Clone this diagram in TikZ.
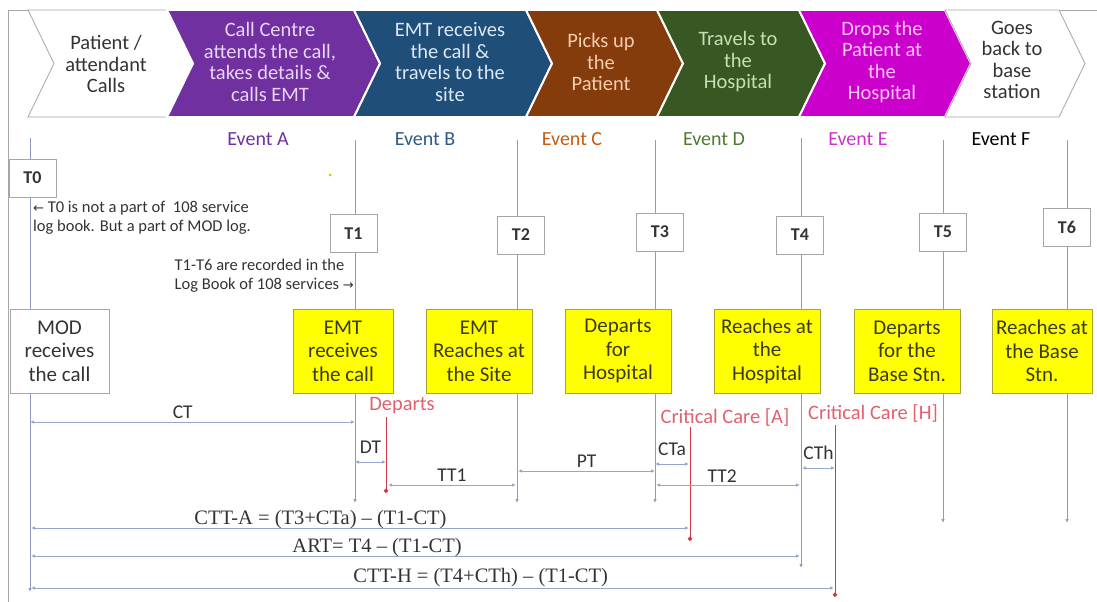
\documentclass[tikz,border=0pt]{standalone}
\usepackage{fontspec}
\setmainfont{Carlito}
\newfontfamily\timesfont{Liberation Serif}
\newfontfamily\arrowfont{DejaVu Sans}
\usetikzlibrary{arrows.meta,positioning}

\definecolor{cpurple}{HTML}{7030A0}
\definecolor{cblue}{HTML}{1F4E79}
\definecolor{cbrown}{HTML}{843C0C}
\definecolor{cgreen}{HTML}{385723}
\definecolor{cmagenta}{HTML}{CC00CC}
\definecolor{tpurple}{HTML}{E8D4F4}
\definecolor{tblue}{HTML}{DCE8F5}
\definecolor{tbrown}{HTML}{F8CBAD}
\definecolor{tgreen}{HTML}{C5E0B4}
\definecolor{tmagenta}{HTML}{F9C8F6}
\definecolor{evA}{HTML}{7030A0}
\definecolor{evB}{HTML}{2E5A88}
\definecolor{evC}{HTML}{C55A11}
\definecolor{evD}{HTML}{4E7A2E}
\definecolor{evE}{HTML}{CC33CC}
\definecolor{darktxt}{HTML}{333333}
\definecolor{boxgray}{HTML}{A6A6A6}
\definecolor{yfill}{HTML}{FFFF00}
\definecolor{yborder}{HTML}{A5A53C}
\definecolor{ytxt}{HTML}{3A3A1E}
\definecolor{tlinecol}{HTML}{8C9CC0}
\definecolor{dimcol}{HTML}{95A8CC}
\definecolor{redcol}{HTML}{D23A4A}
\definecolor{redtxt}{HTML}{E0606E}

\tikzset{
  chev/.style={line width=2pt,draw=white,line join=miter},
  chevw/.style={line width=0.8pt,draw=boxgray,fill=white,line join=miter},
  chevtxt/.style={align=center,font=\fontsize{20.5}{21.5}\selectfont,inner sep=0pt},
  evlabel/.style={font=\fontsize{20}{22}\selectfont},
  tline/.style={draw=tlinecol,line width=0.8pt,-{Latex[length=4pt,width=3.5pt]}},
  tbox/.style={draw=boxgray,fill=white,minimum width=47pt,minimum height=38pt,
    font=\bfseries\fontsize{18}{20}\selectfont,text=darktxt,inner sep=0pt},
  ybox/.style={draw=yborder,fill=yfill,minimum width=106pt,minimum height=84pt,align=center,
    font=\fontsize{21}{23.5}\selectfont,text=ytxt,inner sep=1pt},
  wbox/.style={ybox,draw=boxgray,fill=white,text=darktxt},
  dim/.style={draw=dimcol,line width=0.8pt,{Latex[length=4pt,width=3.5pt]}-{Latex[length=4pt,width=3.5pt]}},
  dimlabel/.style={font=\fontsize{19.5}{20}\selectfont,text=darktxt,inner sep=0pt},
  redline/.style={draw=redcol,line width=0.9pt,-{Circle[length=4.5pt]}},
  redlabel/.style={font=\fontsize{20.5}{22}\selectfont,text=redtxt},
  formula/.style={font=\timesfont\fontsize{20.5}{22}\selectfont,text=darktxt,inner sep=0pt},
  note/.style={font=\fontsize{16.5}{19}\selectfont,text=darktxt,inner sep=0pt},
}

\begin{document}
\begin{tikzpicture}[x=1pt,y=-1pt]
  \useasboundingbox (0,0) rectangle (1097,602);
  \draw[boxgray,line width=0.8pt] (8,602) -- (8,10) -- (1097,10);

  % process chevrons
  \filldraw[chevw] (28,10) -- (167,10) -- (193,63.5) -- (167,117) -- (28,117) -- (54,63.5) -- cycle;
  \filldraw[chev,fill=cpurple] (167,10) -- (354,10) -- (380,63.5) -- (354,117) -- (167,117) -- (193,63.5) -- cycle;
  \filldraw[chev,fill=cblue] (354,10) -- (526,10) -- (552,63.5) -- (526,117) -- (354,117) -- (380,63.5) -- cycle;
  \filldraw[chev,fill=cbrown] (526,10) -- (657,10) -- (683,63.5) -- (657,117) -- (526,117) -- (552,63.5) -- cycle;
  \filldraw[chev,fill=cgreen] (657,10) -- (799,10) -- (825,63.5) -- (799,117) -- (657,117) -- (683,63.5) -- cycle;
  \filldraw[chev,fill=cmagenta] (799,10) -- (945,10) -- (971,63.5) -- (945,117) -- (799,117) -- (825,63.5) -- cycle;
  \filldraw[chevw] (945,10) -- (1059,10) -- (1085,63.5) -- (1059,117) -- (945,117) -- (971,63.5) -- cycle;
  \node[chevtxt,text=darktxt] (p1) at (106,64) {Patient /\\attendant\\Calls};
  \node[chevtxt,text=tpurple] (p2) at (270,62) {Call Centre\\attends the call,\\takes details \&\\calls EMT};
  \node[chevtxt,text=tblue] (p3) at (450,62) {EMT receives\\the call \&\\travels to the\\site};
  \node[chevtxt,text=tbrown] (p4) at (601,62) {Picks up\\the\\Patient};
  \node[chevtxt,text=tgreen] (p5) at (738,62) {Travels to\\the\\Hospital};
  \node[chevtxt,text=tmagenta] (p6) at (882,62) {Drops the\\Patient at\\the\\Hospital};
  \node[chevtxt,text=darktxt] (p7) at (1012,60) {Goes\\back to\\base\\station};

  \node[evlabel,text=evA] (evtA) at (258,139) {Event A};
  \node[evlabel,text=evB] (evtB) at (425,139) {Event B};
  \node[evlabel,text=evC] (evtC) at (572,139) {Event C};
  \node[evlabel,text=evD] (evtD) at (714,139) {Event D};
  \node[evlabel,text=evE] (evtE) at (858,139) {Event E};
  \node[evlabel,text=black] (evtF) at (1001,139) {Event F};
  \fill[yellow!60!olive] (330,175) circle (1.5);

  % time lines
  \coordinate (t0a) at (30,138);  \coordinate (t0b) at (30,592);
  \coordinate (t1a) at (355,140); \coordinate (t1b) at (355,503);
  \coordinate (t2a) at (517,140); \coordinate (t2b) at (517,503);
  \coordinate (t3a) at (655,140); \coordinate (t3b) at (655,503);
  \coordinate (t4a) at (801,138); \coordinate (t4b) at (801,568);
  \coordinate (t5a) at (943,140); \coordinate (t5b) at (943,523);
  \coordinate (t6a) at (1067,140); \coordinate (t6b) at (1067,523);
  \draw[tline] (t0a) -- (t0b);
  \draw[tline] (t1a) -- (t1b);
  \draw[tline] (t2a) -- (t2b);
  \draw[tline] (t3a) -- (t3b);
  \draw[tline] (t4a) -- (t4b);
  \draw[tline] (t5a) -- (t5b);
  \draw[tline] (t6a) -- (t6b);

  \node[tbox] (T0) at (32.5,178) {T0};
  \node[tbox] (T1) at (353.5,233.5) {T1};
  \node[tbox] (T2) at (521,235) {T2};
  \node[tbox] (T3) at (660,232) {T3};
  \node[tbox] (T4) at (800,235) {T4};
  \node[tbox] (T5) at (943,232) {T5};
  \node[tbox] (T6) at (1067,227) {T6};

  \node[note,anchor=north west,align=left] (note0) at (33,201)
    {{\arrowfont\fontsize{13}{19}\selectfont ←} T0 is not a part of\ \ 108 service\\log book. But a part of MOD log.};
  \node[note,anchor=north east,align=left] (note1) at (354,259)
    {T1-T6 are recorded in the\\Log Book of 108 services {\arrowfont\fontsize{13}{19}\selectfont →}};

  % event boxes
  \node[wbox,minimum width=99pt] (mod) at (59.5,351) {MOD\\receives\\the call};
  \node[ybox,minimum width=100pt] (b1) at (343,351) {EMT\\receives\\the call};
  \node[ybox] (b2) at (479,351) {EMT\\Reaches at\\the Site};
  \node[ybox] (b3) at (618,351) {Departs\\for\\Hospital};
  \node[ybox] (b4) at (767,351) {Reaches at\\the\\Hospital};
  \node[ybox] (b5) at (907,351) {Departs\\for the\\Base Stn.};
  \node[ybox,minimum width=100pt] (b6) at (1042,351) {Reaches at\\the Base\\Stn.};

  % red markers
  \node[redlabel] (dep) at (402,406) {Departs};
  \node[redlabel] (ccA) at (725,417) {Critical Care [A]};
  \node[redlabel] (ccH) at (873,413) {Critical Care [H]};
  \coordinate (depa) at (386,417); \coordinate (depb) at (386,493);
  \coordinate (cca) at (690,427);  \coordinate (ccb) at (690,541);
  \coordinate (cch) at (835,425);  \coordinate (cchb) at (835,597);
  \draw[redline] (depa) -- (depb);
  \draw[redline] (cca) -- (ccb);
  \draw[redline] (cch) -- (cchb);

  % intervals
  \coordinate (ct1) at (30,422);   \coordinate (ct2) at (355,422);
  \coordinate (dt1) at (355,462);  \coordinate (dt2) at (386,462);
  \coordinate (tt1a) at (388,485); \coordinate (tt1b) at (516,485);
  \coordinate (pt1) at (518,471);  \coordinate (pt2) at (655,471);
  \coordinate (cta1) at (655,464); \coordinate (cta2) at (689,464);
  \coordinate (tt2a) at (656,485); \coordinate (tt2b) at (800,485);
  \coordinate (cth1) at (802,468); \coordinate (cth2) at (835,468);
  \draw[dim] (ct1) -- node[dimlabel,pos=0.47,above=3pt] (ctl) {CT} (ct2);
  \draw[dim] (dt1) -- node[dimlabel,above=8pt] (dtl) {DT} (dt2);
  \draw[dim] (tt1a) -- node[dimlabel,above=3pt] (tt1l) {TT1} (tt1b);
  \draw[dim] (pt1) -- node[dimlabel,above=3pt] (ptl) {PT} (pt2);
  \draw[dim] (cta1) -- node[dimlabel,above=8pt] (ctal) {CTa} (cta2);
  \draw[dim] (tt2a) -- node[dimlabel,pos=0.46,above=2pt] (tt2l) {TT2} (tt2b);
  \draw[dim] (cth1) -- node[dimlabel,above=8pt] (cthl) {CTh} (cth2);

  \coordinate (cttA1) at (31,528); \coordinate (cttA2) at (689,528);
  \coordinate (art1) at (31,556);  \coordinate (art2) at (800,556);
  \coordinate (cttH1) at (31,588); \coordinate (cttH2) at (834,588);
  \draw[dim] (cttA1) -- node[formula,pos=0.44,above=-1pt] (fA) {CTT-A = (T3+CTa) – (T1-CT)} (cttA2);
  \draw[dim] (art1) -- node[formula,pos=0.45,above=-1pt] (fR) {ART= T4 – (T1-CT)} (art2);
  \draw[dim] (cttH1) -- node[formula,pos=0.56,above=1pt] (fH) {CTT-H = (T4+CTh) – (T1-CT)} (cttH2);
\end{tikzpicture}
\end{document}
